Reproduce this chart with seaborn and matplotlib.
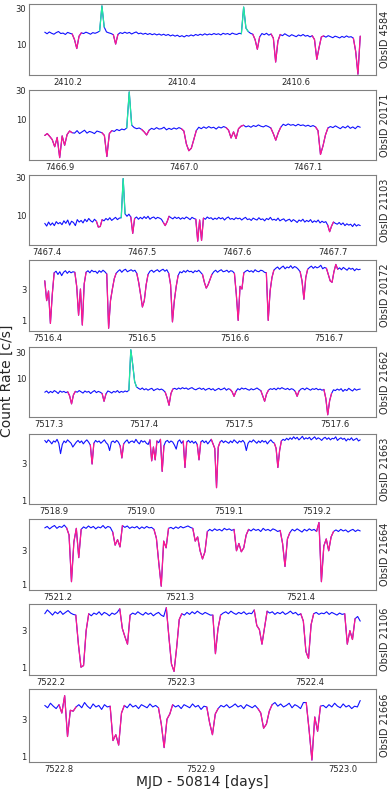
import numpy as np
import pandas as pd
import matplotlib
matplotlib.use("Agg")
import matplotlib.pyplot as plt
import matplotlib.ticker as mticker
import seaborn as sns

# ------------------------------------------------------------
# Light-curve data (count rate per time bin)
# ------------------------------------------------------------
obsids = ["4584", "20171", "21103", "20172", "21662", "21663", "21664", "21106", "21666"]

# time span (MJD - 50814) covered by each observation
t_4584 = (2410.160, 2410.712)
t_20171 = (7466.888, 7467.142)
t_21103 = (7467.398, 7467.729)
t_20172 = (7516.397, 7516.733)
t_21662 = (7517.296, 7517.627)
t_21663 = (7518.890, 7519.250)
t_21664 = (7521.189, 7521.449)
t_21106 = (7522.195, 7522.439)
t_21666 = (7522.790, 7523.012)

rate_4584 = [
    14.5, 13.8, 14.6, 14.0, 13.6, 14.3, 14.8, 13.9, 14.1, 13.5,
    14.4, 14.0, 13.7, 11.5, 8.7, 12.8, 14.2, 13.9, 14.5, 14.1,
    13.6, 14.3, 14.0, 14.4, 15.0, 33.0, 17.0, 14.6, 14.2, 13.9,
    13.4, 10.0, 13.5, 14.3, 13.9, 14.5, 14.0, 14.4, 13.7, 14.2,
    14.6, 13.8, 14.1, 13.6, 14.0, 13.5, 13.9, 13.4, 13.8, 13.3,
    13.7, 13.2, 13.6, 13.1, 13.5, 12.9, 13.3, 12.8, 13.2, 12.6,
    13.0, 12.5, 13.1, 12.8, 13.3, 12.9, 13.5, 13.1, 13.6, 13.2,
    13.8, 13.3, 13.7, 13.4, 13.9, 13.5, 13.8, 13.3, 14.0, 13.6,
    13.9, 13.4, 14.1, 13.7, 13.5, 14.0, 13.8, 31.8, 16.5, 14.8,
    14.0, 13.6, 11.5, 8.5, 12.5, 13.9, 13.4, 14.0, 13.2, 13.7,
    12.0, 5.7, 11.0, 13.5, 13.0, 13.8, 13.2, 12.7, 13.4, 13.0,
    12.6, 13.3, 12.9, 13.5, 12.8, 13.1, 12.5, 13.0, 11.5, 6.2,
    9.0, 12.5, 12.9, 12.4, 13.0, 12.6, 12.2, 12.8, 12.5, 12.1,
    12.7, 12.3, 12.9, 12.4, 12.6, 12.0, 8.0, 3.9, 12.8,
]
rate_20171 = [
    5.4, 5.8, 5.2, 4.6, 3.5, 5.0, 2.3, 5.3, 3.7, 5.6,
    6.4, 6.0, 5.9, 6.5, 5.8, 6.2, 6.6, 5.9, 6.3, 6.1,
    5.8, 6.4, 6.2, 6.0, 5.4, 2.4, 5.8, 6.5, 6.3, 6.8,
    6.5, 6.9, 6.7, 7.2, 28.8, 8.0, 7.3, 7.0, 7.2, 6.8,
    6.2, 5.5, 6.6, 7.1, 6.8, 7.3, 6.9, 7.0, 7.4, 6.7,
    7.1, 6.8, 7.2, 6.9, 7.3, 7.0, 6.4, 3.9, 3.0, 3.3,
    4.6, 6.5, 7.4, 7.0, 7.5, 7.1, 7.6, 7.2, 7.4, 6.9,
    7.5, 7.2, 7.6, 7.3, 6.6, 4.9, 6.2, 4.8, 7.0, 7.7,
    8.0, 7.5, 7.8, 7.4, 7.9, 7.6, 8.1, 7.7, 7.5, 7.9,
    7.6, 7.2, 5.8, 4.5, 6.0, 7.4, 8.3, 7.9, 8.4, 8.0,
    8.2, 7.8, 8.3, 7.9, 8.1, 7.7, 8.0, 7.6, 7.9, 7.5,
    6.5, 2.6, 3.6, 5.5, 7.2, 7.6, 7.3, 7.8, 7.4, 7.0,
    7.6, 7.2, 7.8, 7.1, 7.5, 7.0, 7.7, 7.4,
]
rate_21103 = [
    8.0, 7.4, 8.3, 7.6, 8.1, 7.5, 8.4, 7.9, 8.2, 7.7,
    8.6, 8.0, 8.8, 7.6, 8.5, 8.2, 7.5, 8.9, 8.3, 8.7,
    8.1, 9.0, 8.4, 9.2, 8.6, 8.3, 9.0, 8.5, 7.2, 7.3,
    8.9, 8.6, 9.2, 8.8, 9.4, 8.7, 9.1, 9.5, 8.9, 9.3,
    9.4, 28.9, 10.5, 9.8, 10.4, 9.6, 6.0, 9.2, 9.6, 9.0,
    9.5, 9.1, 9.7, 9.2, 9.8, 9.0, 9.4, 9.6, 9.1, 9.5,
    9.3, 9.0, 8.2, 7.5, 8.4, 9.8, 9.4, 9.1, 9.6, 9.2,
    9.5, 9.0, 9.4, 9.1, 9.6, 9.3, 8.9, 9.5, 9.2, 9.0,
    4.8, 8.8, 4.9, 9.3, 9.0, 9.6, 9.2, 9.4, 8.9, 9.3,
    9.0, 9.5, 9.1, 9.4, 8.8, 9.3, 9.6, 9.0, 9.2, 8.9,
    9.4, 9.1, 9.3, 8.8, 9.2, 9.5, 8.9, 9.1, 8.7, 9.3,
    9.0, 8.8, 9.4, 8.9, 9.1, 8.6, 9.2, 8.9, 9.5, 8.8,
    9.0, 8.7, 9.3, 8.6, 8.9, 9.1, 8.5, 8.8, 9.0, 8.4,
    8.9, 8.6, 8.2, 8.8, 8.5, 9.0, 8.3, 8.7, 8.4, 8.9,
    8.2, 8.6, 8.3, 8.8, 8.1, 8.5, 8.2, 8.4, 7.6, 6.3,
    7.4, 8.3, 8.0, 7.8, 8.2, 7.7, 8.1, 7.5, 7.9, 7.6,
    7.8, 7.3, 7.9, 7.4, 7.7, 7.5,
]
rate_20172 = [
    4.0, 2.0, 2.8, 0.9, 2.5, 5.3, 5.6, 5.0, 5.5, 4.8,
    5.4, 5.7, 5.2, 5.6, 5.3, 5.5, 5.4, 3.3, 1.2, 3.0,
    0.85, 3.6, 5.4, 5.7, 5.3, 5.8, 5.5, 5.6, 5.2, 5.7,
    5.4, 5.8, 5.5, 5.1, 0.76, 2.0, 3.0, 4.3, 5.2, 5.6,
    5.9, 5.4, 5.8, 6.0, 5.5, 5.7, 5.9, 5.6, 5.8, 5.2,
    3.8, 2.5, 1.6, 2.0, 3.5, 5.0, 5.6, 5.8, 5.4, 5.7,
    5.9, 5.5, 5.8, 6.0, 5.6, 5.9, 5.2, 3.5, 0.95, 2.0,
    3.3, 4.8, 5.5, 5.3, 5.7, 5.4, 5.8, 5.5, 5.6, 5.3,
    5.7, 5.5, 5.8, 5.4, 5.0, 3.8, 3.1, 3.5, 4.2, 5.0,
    5.5, 5.8, 5.4, 5.7, 5.9, 5.5, 5.6, 5.8, 5.4, 5.7,
    5.6, 5.2, 2.5, 1.0, 3.3, 3.0, 5.3, 5.6, 5.8, 5.5,
    5.7, 5.4, 5.9, 5.6, 5.5, 5.8, 5.7, 5.4, 5.3, 1.0,
    2.8, 4.5, 5.8, 6.2, 6.5, 6.0, 6.4, 6.7, 6.1, 6.5,
    6.3, 6.8, 6.2, 6.6, 6.4, 6.0, 5.5, 4.0, 2.1, 4.5,
    6.0, 6.4, 6.7, 6.2, 6.6, 6.3, 6.5, 6.9, 6.1, 6.4,
    6.2, 5.0, 4.0, 3.8, 5.5, 7.1, 6.0, 6.3, 5.9, 6.4,
    6.1, 5.8, 6.3, 6.0, 6.2, 5.7, 6.1, 5.9, 6.0,
]
rate_21662 = [
    5.8, 6.1, 5.6, 6.0, 5.7, 6.2, 5.9, 5.5, 6.1, 5.8,
    6.0, 5.7, 5.9, 5.0, 3.6, 5.2, 6.0, 5.8, 6.2, 5.9,
    5.6, 6.1, 5.8, 6.0, 5.5, 5.9, 6.2, 5.7, 6.0, 5.8,
    5.5, 4.0, 5.4, 6.1, 5.9, 5.6, 6.0, 5.8, 6.2, 5.7,
    6.0, 5.8, 6.1, 5.9, 6.3, 33.0, 18.0, 9.0, 7.2, 6.8,
    6.5, 6.9, 6.4, 6.7, 6.3, 6.6, 6.8, 6.2, 6.5, 6.7,
    6.4, 6.6, 6.3, 5.8, 4.6, 3.4, 5.5, 6.6, 6.8, 6.5,
    6.9, 6.6, 7.0, 6.7, 6.9, 6.5, 6.8, 7.0, 6.6, 6.4,
    6.7, 6.9, 6.5, 6.8, 6.3, 6.6, 6.8, 6.4, 6.7, 6.2,
    6.5, 6.8, 6.4, 6.6, 6.9, 6.3, 6.7, 6.5, 5.9, 4.9,
    6.0, 6.7, 6.4, 6.9, 6.6, 6.8, 6.5, 6.3, 6.7, 6.4,
    6.6, 6.9, 6.5, 6.2, 5.0, 4.0, 5.4, 6.3, 6.7, 6.5,
    6.8, 6.4, 6.9, 6.6, 7.0, 6.7, 6.5, 6.8, 6.4, 6.7,
    6.5, 6.0, 4.9, 6.1, 6.6, 6.8, 6.4, 6.9, 6.6, 6.3,
    6.7, 6.5, 6.8, 6.4, 6.6, 6.3, 6.5, 4.5, 2.3, 4.1,
    5.5, 6.4, 6.2, 6.6, 6.3, 6.7, 6.0, 6.5, 6.2, 6.8,
    6.4, 6.1, 6.7, 6.3, 6.5, 6.6,
]
rate_21663 = [
    6.1, 5.7, 6.2, 5.9, 5.5, 6.0, 5.8, 6.3, 5.6, 4.1,
    5.4, 6.0, 5.7, 6.2, 5.9, 5.6, 5.0, 5.4, 5.8, 6.1,
    5.7, 6.0, 5.5, 5.9, 6.2, 5.8, 5.3, 3.0, 5.6, 6.1,
    5.8, 6.0, 5.6, 5.9, 6.2, 5.7, 5.4, 4.5, 5.8, 6.0,
    5.7, 6.1, 5.8, 5.2, 3.6, 5.5, 5.9, 6.2, 5.6, 5.9,
    6.0, 5.7, 6.3, 5.8, 5.5, 6.1, 5.8, 6.0, 5.6, 5.4,
    6.2, 3.3, 5.0, 3.4, 6.0, 5.7, 6.3, 2.4, 5.2, 5.9,
    6.1, 5.7, 6.0, 5.8, 5.3, 4.7, 5.9, 6.2, 5.6, 6.0,
    2.7, 5.8, 6.1, 5.7, 6.0, 5.6, 5.9, 5.4, 3.4, 5.8,
    6.1, 5.7, 6.0, 5.5, 5.9, 6.3, 5.5, 4.8, 1.47, 5.0,
    5.8, 6.1, 5.7, 6.0, 5.8, 5.6, 6.0, 5.7, 6.2, 5.9,
    5.6, 6.0, 5.8, 6.1, 5.7, 4.5, 5.6, 6.0, 5.8, 6.2,
    5.9, 5.6, 6.0, 5.7, 6.1, 5.8, 6.0, 5.5, 5.9, 6.2,
    5.8, 5.6, 4.8, 2.7, 4.5, 6.0, 6.3, 6.1, 6.5, 6.2,
    6.6, 6.3, 6.8, 6.4, 6.7, 6.2, 6.5, 6.9, 6.3, 6.6,
    6.4, 6.7, 6.2, 6.5, 6.8, 6.3, 6.6, 6.4, 6.1, 6.5,
    6.7, 6.3, 6.6, 6.2, 6.5, 6.4, 6.8, 6.1, 6.4, 6.6,
    6.3, 6.5, 6.0, 6.4, 6.2, 6.6, 6.1, 6.3, 6.5, 6.0, 6.2,
]
rate_21664 = [
    6.3, 6.6, 6.1, 6.5, 6.8, 6.2, 6.6, 6.4, 6.9, 6.3,
    5.0, 1.1, 4.0, 6.2, 2.4, 6.0, 6.5, 6.2, 6.7, 6.3,
    6.6, 6.1, 6.5, 6.3, 6.8, 6.2, 6.6, 6.4, 5.5, 3.6,
    4.3, 3.4, 6.8, 6.4, 6.7, 6.2, 6.5, 6.3, 6.6, 6.1,
    6.5, 6.2, 6.6, 6.3, 6.4, 6.0, 4.5, 2.0, 0.95, 4.1,
    3.3, 6.2, 6.4, 6.1, 6.5, 6.2, 6.6, 6.3, 6.5, 6.7,
    6.4, 6.2, 4.1, 4.7, 3.0, 2.3, 2.9, 5.6, 6.0, 5.7,
    6.1, 5.8, 6.0, 5.7, 6.2, 5.9, 6.1, 5.8, 6.0, 3.0,
    3.8, 2.9, 3.3, 5.0, 6.0, 5.7, 6.1, 5.8, 6.0, 5.6,
    6.2, 5.8, 6.0, 5.7, 6.1, 5.9, 5.6, 5.8, 3.8, 1.8,
    4.4, 5.4, 6.0, 5.7, 6.1, 5.8, 5.5, 6.0, 5.7, 6.1,
    5.8, 6.0, 5.6, 7.5, 1.1, 3.5, 4.4, 3.0, 4.7, 5.6,
    5.9, 5.6, 6.0, 5.7, 5.9, 5.5, 5.8, 6.0, 5.6, 5.9,
    5.7,
]
rate_21106 = [
    5.0, 5.6, 5.2, 4.8, 5.3, 5.0, 5.4, 4.9, 5.2, 5.5,
    5.1, 4.9, 4.8, 2.0, 1.0, 1.05, 3.0, 5.0, 4.7, 5.1,
    4.9, 5.3, 4.8, 5.2, 5.0, 4.7, 5.1, 4.9, 5.2, 5.8,
    3.2, 2.5, 2.0, 4.8, 5.1, 4.9, 5.3, 5.0, 4.8, 5.2,
    4.9, 5.1, 4.7, 5.0, 5.2, 4.8, 4.6, 6.0, 2.5, 1.1,
    0.88, 1.8, 4.2, 5.0, 4.8, 5.2, 4.9, 5.3, 5.0, 5.4,
    5.1, 4.9, 5.2, 5.0, 4.8, 4.8, 1.5, 3.2, 4.8, 5.1,
    5.3, 5.0, 5.4, 5.1, 4.9, 5.2, 5.0, 5.3, 4.9, 5.1,
    5.0, 5.6, 3.5, 3.1, 2.0, 3.3, 5.4, 5.1, 5.3, 4.9,
    5.2, 5.0, 5.3, 4.9, 5.1, 5.4, 5.0, 5.2, 4.8, 5.0,
    4.0, 1.6, 1.3, 3.6, 5.0, 5.2, 4.9, 5.1, 5.0, 5.3,
    4.9, 5.2, 5.0, 4.8, 5.1, 4.9, 5.0, 2.0, 3.0, 2.3,
    4.3, 4.6, 4.0,
]
rate_21666 = [
    4.5, 4.2, 4.8, 4.4, 4.1, 4.6, 3.6, 6.0, 1.8, 3.9,
    3.8, 4.3, 4.6, 4.2, 4.9, 4.4, 4.1, 4.7, 4.3, 4.5,
    4.0, 4.6, 4.3, 4.4, 1.6, 1.9, 1.4, 3.6, 4.5, 4.2,
    4.7, 4.3, 4.5, 4.1, 4.6, 4.4, 4.2, 4.7, 4.3, 4.5,
    4.2, 2.6, 1.3, 3.0, 3.5, 4.6, 4.3, 4.5, 4.1, 4.6,
    4.4, 4.2, 4.7, 4.3, 4.5, 4.0, 4.4, 4.3, 2.7, 1.9,
    3.5, 4.1, 4.5, 4.3, 4.6, 4.2, 4.4, 4.7, 4.3, 4.5,
    4.1, 4.6, 4.4, 4.2, 4.5, 4.1, 3.6, 2.3, 2.6, 3.8,
    4.6, 4.9, 4.4, 4.7, 4.3, 4.5, 4.8, 4.2, 4.6, 4.4,
    4.1, 4.9, 4.9, 2.2, 0.9, 3.2, 2.1, 4.4, 4.5, 4.2,
    4.6, 4.3, 4.8, 4.4, 4.2, 4.7, 4.3, 4.5, 4.1, 4.4,
    4.3, 5.2,
]

# bin ranges (first, last index) flagged as dips and as flares
dips_4584 = [(12, 16), (30, 32), (91, 94), (99, 103), (117, 122), (135, 138)]
dips_20171 = [(0, 11), (23, 27), (39, 42), (55, 61), (73, 80), (91, 95), (109, 114)]
dips_21103 = [(27, 30), (45, 47), (62, 65), (79, 83), (148, 151)]
dips_20172 = [(0, 5), (16, 22), (33, 38), (49, 55), (66, 71), (84, 89),
              (101, 106), (118, 122), (136, 140), (150, 156)]
dips_21662 = [(12, 16), (30, 32), (63, 67), (97, 100), (113, 117), (131, 133), (146, 150)]
dips_21663 = [(26, 28), (43, 45), (60, 64), (66, 68), (79, 81), (87, 89), (95, 100), (131, 135)]
dips_21664 = [(9, 15), (28, 32), (45, 51), (61, 67), (78, 84), (97, 101), (112, 119)]
dips_21106 = [(12, 17), (29, 33), (47, 53), (65, 68), (81, 86), (99, 104), (116, 120)]
dips_21666 = [(5, 11), (23, 28), (40, 45), (57, 61), (75, 80), (92, 97)]

flares_4584 = [(24, 26), (86, 89)]
flares_20171 = [(33, 35)]
flares_21103 = [(40, 42)]
flares_21662 = [(44, 48)]

# labelled y ticks: bright panels get 10/30, faint ones 1/3
high_ticks = [10, 30]
low_ticks = [1, 3]

# ------------------------------------------------------------
# Figure
# ------------------------------------------------------------
sns.set_style("white")
plt.rcParams['font.family'] = ['DejaVu Sans']

BLUE = "#1010ff"
PINK = "#ff1a8c"
GREEN = "#22ec9e"
EDGE = "#808080"

panels = [
    (t_4584, rate_4584, dips_4584, flares_4584, (3.8, 35), 0.2, high_ticks),
    (t_20171, rate_20171, dips_20171, flares_20171, (2.1, 31), 0.1, high_ticks),
    (t_21103, rate_21103, dips_21103, flares_21103, (4.3, 32), 0.1, high_ticks),
    (t_20172, rate_20172, dips_20172, [], (0.69, 8.3), 0.1, low_ticks),
    (t_21662, rate_21662, dips_21662, flares_21662, (2.1, 37), 0.1, high_ticks),
    (t_21663, rate_21663, dips_21663, [], (0.9, 7.4), 0.1, low_ticks),
    (t_21664, rate_21664, dips_21664, [], (0.84, 8.4), 0.1, low_ticks),
    (t_21106, rate_21106, dips_21106, [], (0.79, 6.7), 0.1, low_ticks),
    (t_21666, rate_21666, dips_21666, [], (0.85, 7.3), 0.1, low_ticks),
]

# panel top / bottom edges in pixels (from the top of the figure)
edges_px = [(4, 75), (90, 160), (175, 245), (260, 331), (347, 417),
            (434, 504), (519, 590), (604, 675), (689, 762)]

W, H = 391, 793
fig = plt.figure(figsize=(W / 100, H / 100), dpi=100)

for (trange, rate, dips, flares, ylim, step, yt), obsid, (top, bot) in zip(panels, obsids, edges_px):
    ax = fig.add_axes([29 / W, 1 - bot / H, (376 - 29) / W, (bot - top) / H])

    t = np.linspace(trange[0], trange[1], len(rate))
    df = pd.DataFrame({"t": t, "rate": rate})

    sns.lineplot(data=df, x="t", y="rate", color=BLUE, lw=0.8,
                 estimator=None, sort=False, ax=ax)
    for a, b in dips:
        sns.lineplot(data=df.iloc[a:b + 1], x="t", y="rate", color=PINK, lw=0.9,
                     estimator=None, sort=False, ax=ax)
    for a, b in flares:
        sns.lineplot(data=df.iloc[a:b + 1], x="t", y="rate", color=GREEN, lw=0.9,
                     estimator=None, sort=False, ax=ax)

    ax.set_yscale("log")
    ax.set_yticks(yt, labels=[str(v) for v in yt])
    ax.yaxis.set_minor_formatter(mticker.NullFormatter())
    ax.set_ylim(*ylim)

    ax.xaxis.set_major_locator(mticker.MultipleLocator(step))
    ax.xaxis.set_major_formatter(mticker.FormatStrFormatter("%.1f"))
    ax.margins(x=0.05)

    ax.set_xlabel("")
    ax.set_ylabel("")
    for sp in ax.spines.values():
        sp.set_color(EDGE)
        sp.set_linewidth(0.8)
    ax.tick_params(axis="both", which="major", direction="in", length=2.5,
                   width=0.6, color="#444444", labelsize=6, pad=2)
    ax.tick_params(axis="both", which="minor", direction="in", length=1.5,
                   width=0.5, color="#666666")

    ax.text(1.012, 0.5, f"ObsID {obsid}", transform=ax.transAxes, rotation=90,
            ha="left", va="center", fontsize=7)

fig.text(7 / W, 1 - 381 / H, "Count Rate [c/s]", rotation=90,
         ha="center", va="center", fontsize=10)
fig.text(202 / W, 1 - 782 / H, "MJD - 50814 [days]",
         ha="center", va="center", fontsize=10)

plt.savefig("out.png", dpi=100, facecolor="white")
plt.close()
